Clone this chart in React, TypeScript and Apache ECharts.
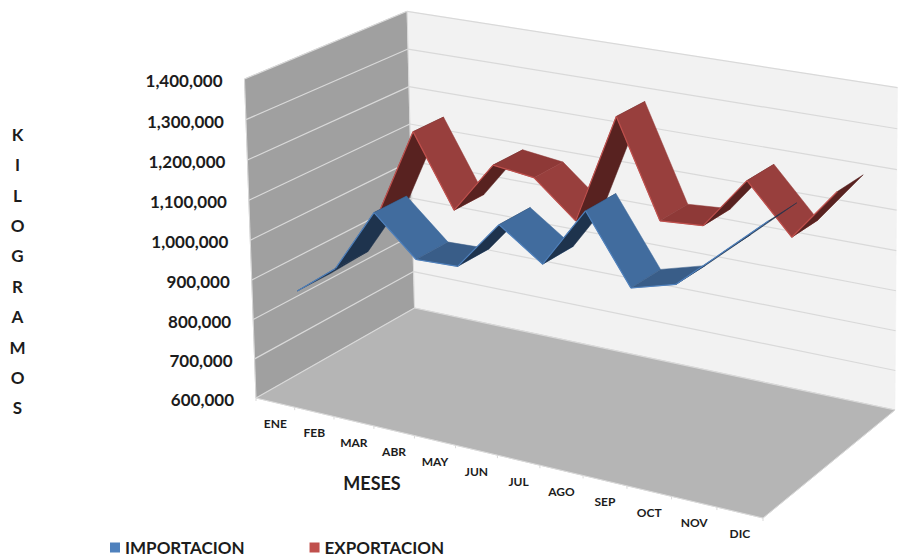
import React, { useEffect, useRef } from "react";
import * as echarts from "echarts";

const meses = ["ENE","FEB","MAR","ABR","MAY","JUN","JUL","AGO","SEP","OCT","NOV","DIC"];
const yTicks = [600000,700000,800000,900000,1000000,1100000,1200000,1300000,1400000];
const importacion = [849000,927000,1087000,991000,995000,1117000,1042000,1190000,1027000,1057000,1151000,1246000];
const exportacion = [932000,1173000,989000,1124000,1111000,1021000,1301000,1061000,1069000,1199000,1081000,1211000];

const W = 898, H = 557;
const A0=[256,398],D0=[763,518],C0=[895,410],B0=[414.5,308];
const E0=[243,80],F0=[409,11],G0=[897,87];
const FONT = "Lato, 'Open Sans', sans-serif";
const TXT = "#1c1c1c";

function floorH(){
  const [x0,y0]=A0,[x1,y1]=D0,[x2,y2]=C0,[x3,y3]=B0;
  const sx=x0-x1+x2-x3, sy=y0-y1+y2-y3;
  const dx1=x1-x2,dx2=x3-x2,dy1=y1-y2,dy2=y3-y2;
  const det=dx1*dy2-dx2*dy1;
  const g=(sx*dy2-dx2*sy)/det, h=(dx1*sy-sx*dy1)/det;
  return {a:x1-x0+g*x1,b:x3-x0+h*x3,c:x0,d:y1-y0+g*y1,e:y3-y0+h*y3,f:y0,g,h};
}
const H0=floorH();
const base=(u:number,v:number)=>[H0.a*u+H0.b*v+H0.c,H0.d*u+H0.e*v+H0.f,H0.g*u+H0.h*v+1];
function solve3(M:number[][],r:number[]){
  const m=M.map((row,i)=>[...row,r[i]]);
  for(let i=0;i<3;i++){
    let p=i;for(let k=i+1;k<3;k++)if(Math.abs(m[k][i])>Math.abs(m[p][i]))p=k;
    [m[i],m[p]]=[m[p],m[i]];
    for(let k=0;k<3;k++){if(k===i)continue;const f=m[k][i]/m[i][i];for(let j=i;j<4;j++)m[k][j]-=f*m[i][j];}
  }
  return [m[0][3]/m[0][0],m[1][3]/m[1][1],m[2][3]/m[2][2]];
}
function fitVertical(){
  const rows:number[][]=[],rhs:number[]=[];
  const pts:[number[],number,number][]=[[E0,0,0],[F0,0,1],[G0,1,1]];
  for(const [p,u,v] of pts){
    const [X,Y,T]=base(u,v);
    rows.push([1,0,-p[0]]);rhs.push(p[0]*T-X);
    rows.push([0,1,-p[1]]);rhs.push(p[1]*T-Y);
  }
  const N=[0,1,2].map(i=>[0,1,2].map(j=>rows.reduce((s,r)=>s+r[i]*r[j],0)));
  const b=[0,1,2].map(i=>rows.reduce((s,r,k)=>s+r[i]*rhs[k],0));
  return solve3(N,b);
}
const [VA,VB,VC]=fitVertical();
const proj=(u:number,v:number,w:number)=>{
  const [X,Y,T]=base(u,v);
  const t=T+VC*w;
  return [(X+VA*w)/t,(Y+VB*w)/t];
};
// cartesian pixel of the hidden grid -> (u, w) of the box
const toUW=(p:number[])=>[p[0]/W,1-p[1]/H];
// ribbons sit in a slightly weaker perspective than the floor's front edge
const ribbonU=(u:number)=>u+0.016*Math.max(0,u-0.1);

const line=(a:number[],b:number[],stroke:string,lw=1)=>({
  type:"line",silent:true,shape:{x1:a[0],y1:a[1],x2:b[0],y2:b[1]},style:{stroke,lineWidth:lw}
});
const poly=(points:number[][],fill:string)=>({
  type:"polygon",silent:true,shape:{points},style:{fill,stroke:fill,lineWidth:0.5}
});

function wallsItem(){
  return {type:"group",children:[
    poly([proj(0,0,0),proj(0,1,0),proj(0,1,1),proj(0,0,1)],"#a0a0a0"),
    poly([proj(0,1,0),proj(1,1,0),proj(1,1,1),proj(0,1,1)],"#f2f2f2"),
    poly([proj(0,0,0),proj(1,0,0),proj(1,1,0),proj(0,1,0)],"#b5b5b5"),
    line(proj(0,0,0),proj(0,0,1),"#d9d9d9"),
    line(proj(0,1,0),proj(0,1,1),"#d9d9d9"),
    line(proj(0,0,0),proj(1,0,0),"#d9d9d9"),
    line(proj(1,0,0),proj(1,1,0),"#d9d9d9"),
  ]};
}
function gridItem(_p:any,api:any){
  const w=toUW(api.coord([0,api.value(1)]))[1];
  const a=proj(0,0,w),b=proj(0,1,w),c=proj(1,1,w);
  return {type:"group",children:[
    line(a,b,"#d9d9d9",1.2),line(b,c,"#d9d9d9",1.2),
    {type:"text",silent:true,x:a[0]-22,y:a[1]+1.5,style:{
      text:Number(api.value(1)).toLocaleString("en-US"),align:"right",verticalAlign:"middle",
      font:`bold 17px ${FONT}`,fill:TXT}},
  ]};
}
function catItem(p:any,api:any){
  const i=p.dataIndex;
  const u=toUW(api.coord([i,600000]))[0];
  const step=1/meses.length;
  const ticks=[u-step/2];
  if(i===meses.length-1)ticks.push(u+step/2);
  const lab=proj(u,0,0);
  return {type:"group",children:[
    ...ticks.map(t=>{const q=proj(t,0,0);return line(q,[q[0],q[1]+3],"#d9d9d9");}),
    {type:"text",silent:true,x:lab[0],y:lab[1]+21,style:{
      text:meses[i],align:"center",verticalAlign:"middle",font:`bold 12px ${FONT}`,fill:TXT}},
  ]};
}
type Pal={light:string,mid:string,dark:string,edge:string};
const ribbon=(vals:number[],v1:number,v2:number,pal:Pal)=>(p:any,api:any)=>{
  const i=p.dataIndex;
  if(i>=vals.length-1)return null;
  const a=toUW(api.coord([i,vals[i]])),b=toUW(api.coord([i+1,vals[i+1]]));
  const ua=ribbonU(a[0]),ub=ribbonU(b[0]);
  const f1=proj(ua,v1,a[1]),f2=proj(ub,v1,b[1]),k1=proj(ua,v2,a[1]),k2=proj(ub,v2,b[1]);
  const cross=(f2[0]-f1[0])*(k1[1]-f1[1])-(f2[1]-f1[1])*(k1[0]-f1[0]);
  const fill=cross>0?pal.dark:Math.abs(vals[i+1]-vals[i])<50000?pal.mid:pal.light;
  return {type:"group",children:[poly([f1,f2,k2,k1],fill),line(f1,f2,pal.edge,1.2)]};
};
const bluePal:Pal={light:"#416c9e",mid:"#395d88",dark:"#1e334d",edge:"#4f81bd"};
const redPal:Pal={light:"#983f3d",mid:"#8e3937",dark:"#582220",edge:"#c0504d"};

export default function App(){
  const ref=useRef<HTMLDivElement>(null);
  useEffect(()=>{
    const c=echarts.init(ref.current!,undefined,{renderer:"svg"});
    c.setOption({
      animation:false,
      backgroundColor:"#ffffff",
      tooltip:{show:false},
      grid:{left:0,top:0,width:W,height:H,show:false},
      xAxis:{type:"category",data:meses,show:false},
      yAxis:{type:"value",min:600000,max:1400000,interval:100000,show:false},
      legend:{
        data:["IMPORTACION","EXPORTACION"],left:105,top:534,icon:"rect",itemWidth:10,itemHeight:10,itemGap:65,
        selectedMode:false,textStyle:{fontFamily:FONT,fontWeight:"bold",fontSize:17,color:TXT},
      },
      graphic:[
        {type:"text",silent:true,x:372,y:483,style:{text:"MESES",align:"center",verticalAlign:"middle",font:`bold 18px ${FONT}`,fill:TXT}},
        {type:"text",silent:true,x:17.5,y:119,style:{text:"K\nI\nL\nO\nG\nR\nA\nM\nO\nS",align:"center",verticalAlign:"top",lineHeight:30.4,font:`bold 17px ${FONT}`,fill:TXT}},
      ],
      series:[
        {name:"walls",type:"custom",z:1,silent:true,clip:false,data:[[0,600000]],renderItem:wallsItem},
        {name:"grid",type:"custom",z:2,silent:true,clip:false,data:yTicks.map(v=>[0,v]),renderItem:gridItem},
        {name:"cats",type:"custom",z:2,silent:true,clip:false,data:meses.map((_,i)=>[i,600000]),renderItem:catItem},
        {name:"EXPORTACION",type:"custom",z:3,silent:true,clip:false,itemStyle:{color:"#c0504d"},
          data:exportacion.map((v,i)=>[i,v]),renderItem:ribbon(exportacion,.65,.85,redPal)},
        {name:"IMPORTACION",type:"custom",z:4,silent:true,clip:false,itemStyle:{color:"#4f81bd"},
          data:importacion.map((v,i)=>[i,v]),renderItem:ribbon(importacion,.15,.35,bluePal)},
      ],
    });
    return ()=>c.dispose();
  },[]);
  return <div style={{position:"fixed",left:0,top:0,width:W,height:H}}>
    <div ref={ref} style={{width:W,height:H}}/>
  </div>;
}
